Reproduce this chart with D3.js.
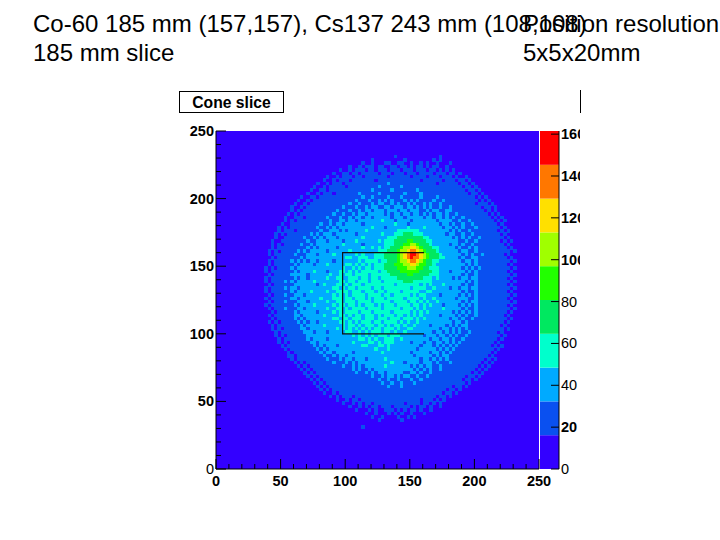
<!DOCTYPE html>
<html><head><meta charset="utf-8">
<script src="https://cdn.jsdelivr.net/npm/d3@7"></script>
<style>html,body{margin:0;padding:0;background:#fff}svg{display:block}text{font-family:"Liberation Sans",Arial,sans-serif;fill:#000}</style>
</head><body><svg id="c" width="720" height="540"></svg>
<script>
// Band index (0-9) of each 2.5-unit cell. Top row is y=232.5, first column x=37.5.
const densityRows = [
"000000000000000000000000000000000000000000000000000000000000000000000000000000",
"000000000000000000000000000000000000000010000000000000100000000000000000000000",
"000000000000000000000000000000000100000000010000000010100000000000000000000000",
"000000000000000000000000000000100100011001100100101001000100000000000000000000",
"000000000000000000000000001001011101100110110101101011001000000000000000000000",
"000000000000000000000001001011101101110111011101110110101010000000000000000000",
"000000000000000000000100110110111110111011101110111101110110100000000000000000",
"000000000000000000010010111011011111110111111011110111011101001000000000000000",
"000000000000000000100101110111111101111111111111011111101110110100000000000000",
"000000000000000010010111011111111111112111111111111110111111011010000000000000",
"000000000000000100101111101111111112111111211111111111111111101101000000000000",
"000000000000001001101111111111111211111211111112111111111111110110100000000000",
"000000000000010010111011111112111112111111121111211111111111111011010000000000",
"000000000001001101111111111111211211112111211111211112111111111110101000000000",
"000000000010010111111111111121112112121211121212111121121111111111010100000000",
"000000000100101111111111112112111212211212112121121211211111111110111010000000",
"000000001001011111111111211121121221122122212212121211211211111111101101000000",
"000000001010111111111121112112122122212221221222112122112211111111110101000000",
"000000010101111111111211211212212222212122122122121212212112111111111010100000",
"000000100111011111121112112122122122222122212222212212212121121111111101010000",
"000000101011111111112112212212222222322212222122222221222211211211111110101000",
"000001001111111112112122122222122222222232221222222222122121121121111111010000",
"000010101111111121121212222222222322212222223222232222212212121112111111101000",
"000010111011111112112221212222232222222223333333222222222121211211111111010100",
"000101011111112121222122222212222222322233344433322222221221121121111111101000",
"000100111111211212122212222222322222223334444444433222222212121211211111110100",
"001001111111121122212222122232222223233344445544443322222222112112111111101010",
"001010111112112122222222322222122222233344455665444322222122121121111111110100",
"001011111111121212222212222222322323233444566776544433222221211212111111111010",
"010101111121212222212222223222222223334445667887654443222222122112111111111101",
"010111111211122212222322222232322233344445678998765444322222212121121111110100",
"001011111112122222222222233223332233344445678988765444332222121122111111111010",
"010111112121212212222122222223233332334445667887654433222222212212111111111101",
"010111111212222122232222233232323233344455566776554432222222221212111111111010",
"101011112122222222222222322323233233344445556665544333222222212121211111111101",
"101111111212222322212223323232333332334444555555444433222122221212111111111010",
"010111112222212222223223233233332333333444445544444333222222212112111111111101",
"101111111212212222232233223332332332333334444444433323222212122122111111111010",
"101111212122222322222223323323332333233333344433333322222222221212111111111101",
"010111111222222212322233232333233333333323333333232322232222212112111111111010",
"101111212212222222222332323323333233233333333233332232222122122122111111111101",
"101111112122223222232233332333233323323333233333223322222222212112111111111010",
"010111211222122222222323232333323333233233333232332222122222121212111111111101",
"101111112212222223222333233233323233323333323333232232222221222112111111111010",
"010111211122212222232233233323333233333233332332323223222222212122111111111101",
"101111111212222322222323323323233323233323333233232322212222121212111111111010",
"010111211122122222232233232333323333233333233323232222232222212112111111111101",
"001011111212222212222323233332333233333233333232323222222212121212111111111010",
"010111111221222222322223323233233323233323323232322222122221212112111111110100",
"001011111212122222222332332333233323332333233323232222222122121121111111111010",
"010101111121212212222223323232333233233332323223222222222212212111111111110100",
"001011111112122222322222323323233323323233232232222122221212122111111111101000",
"001010111112212222222232323232323233233323223322222222122121212111111111110100",
"000101111111222122212222233223232333233232232222222212212121211211111111010000",
"000101011111122222222222222323232323332333222222212221221212112111111111101000",
"000010111111121222212222222223323232233322322222222122122121121111111111010000",
"000010101111112212222222222322223323233322222122212212212121211111111110100000",
"000001011111111212122212222222332223323222222222122212121212111111111101010000",
"000000101111111121212222222222222232223222222221222221212121111111111110100000",
"000000010111111112122122222122222222322222222122222122121211111111111101000000",
"000000011011111111211212212222222222222222222212222212122111111111111010000000",
"000000001011111111121112122122212222232222222222122121212111111111110101000000",
"000000000101011111111211121212222222222322212222122212111211111111101010000000",
"000000000010101111111111211212122222232222222121212211211111111111010100000000",
"000000000001010111111111111212112122222222222212121211211111111110101000000000",
"000000000000101011111111111121121212212222211221211211111111111101010000000000",
"000000000000010101111111111111111211212212122112112111111111110110100000000000",
"000000000000001010111111111111111112112112111211211111111111101101000000000000",
"000000000000000101011111111111111111211211211121111111111111110100000000000000",
"000000000000000010101111111111111111112111211111111111111101101000000000000000",
"000000000000000001010111111111111111111111111111111111110110100000000000000000",
"000000000000000000100101111111111111111111111111111111101101000000000000000000",
"000000000000000000001010111011111111111111111111111110110100000000000000000000",
"000000000000000000000010010110111111111111111111011101010000000000000000000000",
"000000000000000000000000100101011011111111101111011010100000000000000000000000",
"000000000000000000000000001001010110111011111010110100100000000000000000000000",
"000000000000000000000000000010001010011101010110100100000000000000000000000000",
"000000000000000000000000000000010010001010100100010000000000000000000000000000",
"000000000000000000000000000000000100100001001010000000000000000000000000000000",
"000000000000000000000000000000000001000000100000000000000000000000000000000000",
"000000000000000000000000000000000000000000000000000000000000000000000000000000",
"000000000000000000000000000000100000000000000000000000000000000000000000000000"
];
const cellSize = 2.5, firstX = 37.5, firstY = 232.5, bandWidth = 16.15;
const bandColors = ["#3300ff","#0a50f0","#00aaff","#00ffcc","#00e860","#22ff00","#a0ff00","#ffe000","#ff7700","#ff0000"];
const bandIndexes = d3.range(bandColors.length);
const mainTicks = [0,50,100,150,200,250];
const minorTicks = d3.range(0,251,10);
const paletteTicks = [0,20,40,60,80,100,120,140,160];
const boxPath = [[161,160],[98,160],[98,100],[161,100]];
const titleLeft = ["Co-60 185 mm (157,157), Cs137 243 mm (108,108)","185 mm slice"];
const titleRight = ["Position resolution","5x5x20mm"];
const histTitle = "Cone slice";

const svg = d3.select("#c");
const x = d3.scaleLinear().domain([0,250]).range([216,539]);
const y = d3.scaleLinear().domain([0,250]).range([469,131]);
const z = d3.scaleLinear().domain([0,161.5]).range([469,131]);
const color = d3.scaleThreshold().domain(bandIndexes.slice(1).map(i=>i*bandWidth)).range(bandColors);

// heat map
svg.append("rect").attr("x",x(0)).attr("y",y(250)).attr("width",x(250)-x(0)).attr("height",y(0)-y(250)).attr("fill",color(0));
const cells=[];
densityRows.forEach((row,r)=>{for(let c=0;c<row.length;c++){const d=+row[c];if(d>0)cells.push({X:firstX+c*cellSize,Y:firstY-r*cellSize,v:(d+.5)*bandWidth});}});
svg.append("g").selectAll("rect").data(cells).join("rect")
 .attr("x",d=>x(d.X)).attr("y",d=>y(d.Y+cellSize))
 .attr("width",x(cellSize)-x(0)+.2).attr("height",y(0)-y(cellSize)+.2)
 .attr("fill",d=>color(d.v)).attr("shape-rendering","crispEdges");

// palette
svg.append("g").selectAll("rect").data(bandIndexes).join("rect")
 .attr("x",540).attr("width",19)
 .attr("y",i=>z((i+1)*bandWidth)).attr("height",i=>z(i*bandWidth)-z((i+1)*bandWidth))
 .attr("fill",i=>color((i+.5)*bandWidth));

// axes
const gx=svg.append("g").attr("stroke","#000").attr("stroke-width",1);
gx.selectAll(".mx").data(minorTicks).join("line").attr("class","mx").attr("x1",d=>x(d)).attr("x2",d=>x(d)).attr("y1",469).attr("y2",d=>d%50==0?459:464);
gx.selectAll(".my").data(minorTicks).join("line").attr("class","my").attr("y1",d=>y(d)).attr("y2",d=>y(d)).attr("x1",216).attr("x2",d=>d%50==0?226:221);
gx.append("line").attr("x1",216).attr("x2",539).attr("y1",469).attr("y2",469);
gx.append("line").attr("x1",216).attr("x2",216).attr("y1",131).attr("y2",469);
gx.append("line").attr("x1",559).attr("x2",559).attr("y1",131).attr("y2",469);
gx.append("g").selectAll("line").data(paletteTicks).join("line").attr("x1",551).attr("x2",559).attr("y1",d=>z(d)).attr("y2",d=>z(d));

svg.append("g").selectAll("text").data(mainTicks).join("text").attr("x",d=>x(d)).attr("y",486).attr("text-anchor","middle")
 .attr("font-size",14.5).attr("font-weight","bold").text(d=>d);
svg.append("g").selectAll("text").data(mainTicks).join("text").attr("x",214).attr("y",d=>y(d)+5).attr("text-anchor","end")
 .attr("font-size",14.5).attr("font-weight",d=>d==0?"normal":"bold").text(d=>d);
svg.append("clipPath").attr("id","pal").append("rect").attr("x",540).attr("y",100).attr("width",40).attr("height",400);
svg.append("g").attr("clip-path","url(#pal)").selectAll("text").data(paletteTicks).join("text").attr("x",561).attr("y",d=>z(d)+5).attr("text-anchor","start")
 .attr("font-size",14.5).attr("font-weight",d=>(d==0||d==40||d==60||d==80)?"normal":"bold").text(d=>d);

// box drawn over the map
svg.append("path").attr("d",d3.line().x(d=>x(d[0])).y(d=>y(d[1]))(boxPath)).attr("fill","none").attr("stroke","#111").attr("stroke-width",1.2);

// histogram title box
svg.append("rect").attr("x",179.5).attr("y",91.5).attr("width",104).attr("height",21).attr("fill","#fff").attr("stroke","#000");
svg.append("text").attr("x",231.5).attr("y",108).attr("text-anchor","middle").attr("font-size",15.7).attr("font-weight","bold").text(histTitle);
svg.append("line").attr("x1",580.5).attr("x2",580.5).attr("y1",90).attr("y2",113).attr("stroke","#000");

// slide text
svg.append("g").selectAll("text").data(titleLeft).join("text").attr("x",33).attr("y",(d,i)=>32+i*29).attr("font-size",24).text(d=>d);
svg.append("g").selectAll("text").data(titleRight).join("text").attr("x",523).attr("y",(d,i)=>32+i*29).attr("font-size",24).text(d=>d);
</script></body></html>
